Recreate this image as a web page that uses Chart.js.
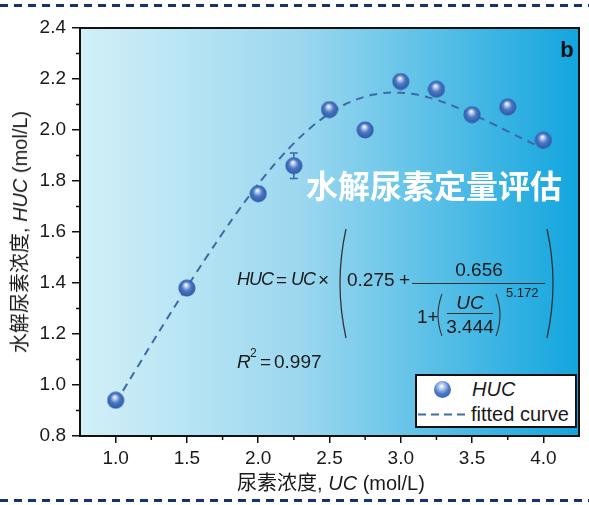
<!DOCTYPE html>
<html>
<head>
<meta charset="utf-8">
<script src="https://cdn.jsdelivr.net/npm/chart.js@4.4.1/dist/chart.umd.min.js"></script>
<style>
  body { margin: 0; background: #fff; }
  #wrap { position: relative; width: 589px; height: 505px; overflow: hidden;
          font-family: "Liberation Sans", Arial, "Noto Sans CJK SC", sans-serif; color: #1a1a1a; }
  #wrap canvas { position: absolute; left: 0; top: 0; }
  .t { position: absolute; white-space: nowrap; line-height: 1; }
  .c { transform: translate(-50%, -50%); }
  .v { transform: translateY(-50%); }
  .f { font-size: 19px; }
  .n { font-size: 18px; letter-spacing: -1px; }
  #legend { position: absolute; left: 415px; top: 374px; width: 162px; height: 54px;
            box-sizing: border-box; border: 2px solid #111; background: #fff; }
  #ball { position: absolute; left: 434px; top: 381px; width: 17px; height: 17px; border-radius: 50%;
          background: radial-gradient(circle at 45% 32%, #fff 0, #b9cdee 18%, #4a78c4 50%, #2b56a0 100%); }
  svg { position: absolute; left: 0; top: 0; }
</style>
</head>
<body>
<div id="wrap">
  <canvas id="grafico" width="589" height="505"></canvas>

  <div class="t c" style="left:20px;top:232px;font-size:20px;transform:translate(-50%,-50%) rotate(-90deg);">水解尿素浓度, <i>HUC</i> (mol/L)</div>
  <div class="t c" style="left:331px;top:483px;font-size:20px;">尿素浓度, <i>UC</i> (mol/L)</div>

  <div class="t c" style="left:434px;top:184px;font-size:32px;font-weight:bold;color:#fff;font-family:'Noto Sans CJK SC',sans-serif;">水解尿素定量评估</div>
  <div class="t c" style="left:567px;top:50px;font-size:22px;font-weight:bold;color:#111;">b</div>

  <!-- formula -->
  <div class="t v n" style="left:237px;top:279px;"><i>HUC</i></div>
  <div class="t v f" style="left:276px;top:279px;">=</div>
  <div class="t v n" style="left:291px;top:279px;"><i>UC</i></div>
  <div class="t v f" style="left:318px;top:279px;">×</div>
  <div class="t v f" style="left:347px;top:279px;">0.275</div>
  <div class="t v f" style="left:399px;top:279px;">+</div>
  <div class="t c f" style="left:479px;top:269px;">0.656</div>
  <div class="t v f" style="left:417px;top:316px;">1+</div>
  <div class="t c f" style="left:470px;top:302px;"><i>UC</i></div>
  <div class="t c f" style="left:470px;top:326px;">3.444</div>
  <div class="t v" style="left:506px;top:292px;font-size:13px;">5.172</div>
  <div class="t v f" style="left:237px;top:361px;"><i>R</i></div>
  <div class="t v" style="left:250px;top:353px;font-size:12px;">2</div>
  <div class="t v f" style="left:260px;top:361px;">=</div>
  <div class="t v f" style="left:274px;top:361px;">0.997</div>

  <!-- legend -->
  <div id="legend"></div>
  <div id="ball"></div>
  <div class="t v" style="left:472px;top:389px;font-size:20px;"><i>HUC</i></div>
  <div class="t v" style="left:471px;top:414px;font-size:20px;">fitted curve</div>

  <svg width="589" height="505">
    <line x1="0" y1="5.5" x2="589" y2="5.5" stroke="#1b3070" stroke-width="3" stroke-dasharray="8 6"/>
    <line x1="0" y1="500.5" x2="589" y2="500.5" stroke="#1b3070" stroke-width="3" stroke-dasharray="8 6"/>
    <path d="M346 229 Q334 283 346 338" fill="none" stroke="#333" stroke-width="1.3"/>
    <path d="M547 229 Q559 283 547 338" fill="none" stroke="#333" stroke-width="1.3"/>
    <path d="M442 294 Q434 315 442 336" fill="none" stroke="#333" stroke-width="1.1"/>
    <path d="M496 294 Q504 315 496 336" fill="none" stroke="#333" stroke-width="1.1"/>
    <line x1="412" y1="283.5" x2="545" y2="283.5" stroke="#333" stroke-width="1"/>
    <line x1="447" y1="313.5" x2="493" y2="313.5" stroke="#333" stroke-width="1"/>
    <line x1="418" y1="414.5" x2="468" y2="414.5" stroke="#3d6aa6" stroke-width="2" stroke-dasharray="8 5"/>
  </svg>
</div>

<script>
// dados
const concUreia = [1.0, 1.5, 2.0, 2.25, 2.5, 2.75, 3.0, 3.25, 3.5, 3.75, 4.0];
const hucValores = [0.94, 1.38, 1.75, 1.86, 2.08, 2.00, 2.19, 2.16, 2.06, 2.09, 1.96];
const hucErros = [0.01, 0.02, 0.02, 0.05, 0.01, 0.01, 0.01, 0.01, 0.01, 0.01, 0.01];

// curva ajustada
const curvaX = [1.0, 1.1, 1.2, 1.3, 1.4, 1.5, 1.6, 1.7, 1.8, 1.9, 2.0, 2.1, 2.2, 2.3, 2.4, 2.5,
  2.6, 2.7, 2.8, 2.9, 3.0, 3.1, 3.2, 3.3, 3.4, 3.5, 3.6, 3.7, 3.8, 3.9, 4.0];
const curvaY = [0.930, 1.022, 1.114, 1.205, 1.295, 1.383, 1.470, 1.554, 1.636, 1.714, 1.788, 1.856,
  1.919, 1.975, 2.024, 2.065, 2.098, 2.122, 2.138, 2.146, 2.146, 2.140, 2.127, 2.109, 2.087, 2.063,
  2.036, 2.009, 1.981, 1.954, 1.928];

const ticksX = [1.0, 1.5, 2.0, 2.5, 3.0, 3.5, 4.0];
const ticksY = [0.8, 1.0, 1.2, 1.4, 1.6, 1.8, 2.0, 2.2, 2.4];
const minorX = [1.25, 1.75, 2.25, 2.75, 3.25, 3.75];
const minorY = [0.9, 1.1, 1.3, 1.5, 1.7, 1.9, 2.1, 2.3];

Chart.defaults.font.family = '"Liberation Sans", Arial, sans-serif';
Chart.defaults.color = '#1a1a1a';

// bolinha 3D
const bola = document.createElement('canvas');
bola.width = 18; bola.height = 18;
(function () {
  const g = bola.getContext('2d');
  const grad = g.createRadialGradient(8, 5.5, 0.3, 9, 9, 9);
  grad.addColorStop(0, '#ffffff');
  grad.addColorStop(0.18, '#b9cdee');
  grad.addColorStop(0.5, '#4a78c4');
  grad.addColorStop(1, '#2b56a0');
  g.fillStyle = grad;
  g.beginPath();
  g.arc(9, 9, 8.5, 0, Math.PI * 2);
  g.fill();
})();

const fundo = {
  id: 'fundo',
  beforeDatasetsDraw(chart) {
    const { ctx, chartArea: a } = chart;
    const gr = ctx.createLinearGradient(a.left, 0, a.right, 0);
    gr.addColorStop(0, '#d2f0f8');
    gr.addColorStop(0.45, '#9ad7ef');
    gr.addColorStop(1, '#12a5de');
    ctx.save();
    ctx.fillStyle = gr;
    ctx.fillRect(a.left, a.top, a.right - a.left, a.bottom - a.top);

    // barras de erro
    const x = chart.scales.x, y = chart.scales.y;
    ctx.strokeStyle = '#3a67ad';
    ctx.lineWidth = 1.5;
    concUreia.forEach((c, i) => {
      const px = x.getPixelForValue(c);
      const y1 = y.getPixelForValue(hucValores[i] + hucErros[i]);
      const y2 = y.getPixelForValue(hucValores[i] - hucErros[i]);
      ctx.beginPath();
      ctx.moveTo(px, y1); ctx.lineTo(px, y2);
      ctx.moveTo(px - 4, y1); ctx.lineTo(px + 4, y1);
      ctx.moveTo(px - 4, y2); ctx.lineTo(px + 4, y2);
      ctx.stroke();
    });
    ctx.restore();
  },
  afterDraw(chart) {
    const { ctx, chartArea: a } = chart;
    const x = chart.scales.x, y = chart.scales.y;
    ctx.save();
    ctx.strokeStyle = '#111';
    ctx.lineWidth = 2;
    ctx.strokeRect(a.left, a.top, a.right - a.left, a.bottom - a.top);
    ctx.lineWidth = 1.5;
    ctx.beginPath();
    minorX.forEach(v => {
      const px = x.getPixelForValue(v);
      ctx.moveTo(px, a.bottom); ctx.lineTo(px, a.bottom + 4);
    });
    minorY.forEach(v => {
      const py = y.getPixelForValue(v);
      ctx.moveTo(a.left, py); ctx.lineTo(a.left - 4, py);
    });
    ctx.stroke();
    ctx.restore();
  }
};

new Chart(document.getElementById('grafico'), {
  type: 'scatter',
  data: {
    datasets: [{
      label: 'HUC',
      data: concUreia.map((c, i) => ({ x: c, y: hucValores[i] })),
      pointStyle: bola,
      pointRadius: 9
    }, {
      label: 'fitted curve',
      data: curvaX.map((c, i) => ({ x: c, y: curvaY[i] })),
      showLine: true,
      borderColor: '#3d6aa6',
      borderWidth: 2,
      borderDash: [8, 6],
      pointRadius: 0,
      tension: 0.3
    }]
  },
  options: {
    responsive: false,
    animation: false,
    layout: { padding: { left: 0, top: 28, right: 6, bottom: 0 } },
    plugins: { legend: { display: false }, tooltip: { enabled: false } },
    scales: {
      x: {
        type: 'linear', min: 0.75, max: 4.25,
        afterBuildTicks: s => { s.ticks = ticksX.map(v => ({ value: v })); },
        afterFit: s => { s.height = 69; },
        ticks: { font: { size: 19 }, padding: 4, callback: v => v.toFixed(1) },
        grid: { drawOnChartArea: false, tickLength: 7, color: '#111', lineWidth: 1.5 },
        border: { color: '#111', width: 2 }
      },
      y: {
        min: 0.8, max: 2.4,
        afterBuildTicks: s => { s.ticks = ticksY.map(v => ({ value: v })); },
        afterFit: s => { s.width = 80; },
        ticks: { font: { size: 19 }, padding: 6, callback: v => v.toFixed(1) },
        grid: { drawOnChartArea: false, tickLength: 8, color: '#111', lineWidth: 1.5 },
        border: { color: '#111', width: 2 }
      }
    }
  },
  plugins: [fundo]
});
</script>
</body>
</html>
